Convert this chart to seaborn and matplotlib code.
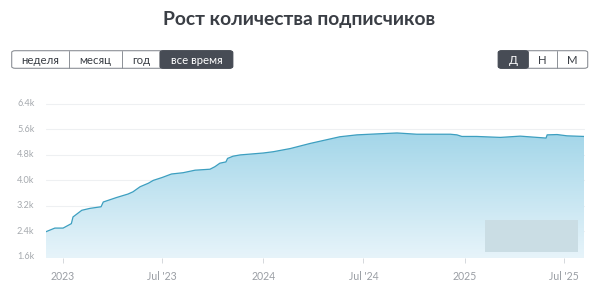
import matplotlib
matplotlib.use("Agg")
import matplotlib.pyplot as plt
import matplotlib.dates as mdates
from matplotlib.patches import FancyBboxPatch, Rectangle
import numpy as np
import pandas as pd
import seaborn as sns

# ---- data ----
dates = ["2022-12-01", "2022-12-18", "2023-01-02", "2023-01-17", "2023-01-20",
         "2023-02-05", "2023-02-20", "2023-03-12", "2023-03-16", "2023-04-09",
         "2023-04-30", "2023-05-09", "2023-05-22", "2023-06-06", "2023-06-15",
         "2023-07-01", "2023-07-18", "2023-08-08", "2023-08-30", "2023-09-26",
         "2023-10-05", "2023-10-14", "2023-10-25", "2023-10-28", "2023-11-07",
         "2023-11-20", "2024-01-01", "2024-01-19", "2024-02-19", "2024-03-08",
         "2024-03-26", "2024-05-19", "2024-06-19", "2024-07-25", "2024-08-31",
         "2024-10-06", "2024-10-30", "2024-12-06", "2024-12-18", "2024-12-27",
         "2025-01-23", "2025-03-07", "2025-04-12", "2025-05-13", "2025-05-29",
         "2025-05-31", "2025-06-18", "2025-07-06", "2025-08-06"]
subscribers = [2380, 2500, 2500, 2640, 2850,
               3060, 3120, 3170, 3320, 3460,
               3570, 3640, 3800, 3910, 4000,
               4090, 4200, 4240, 4320, 4350,
               4430, 4540, 4580, 4690, 4760,
               4800, 4860, 4900, 5000, 5080,
               5160, 5370, 5430, 5460, 5490,
               5450, 5450, 5450, 5430, 5380,
               5380, 5350, 5390, 5350, 5330,
               5430, 5440, 5400, 5380]
tick_dates = ["2023-01-01", "2023-07-01", "2024-01-01", "2024-07-01", "2025-01-01", "2025-07-01"]
tick_labels = ["2023", "Jul '23", "2024", "Jul '24", "2025", "Jul '25"]
y_ticks = [1600, 2400, 3200, 4000, 4800, 5600, 6400]
y_tick_labels = ["1.6k", "2.4k", "3.2k", "4.0k", "4.8k", "5.6k", "6.4k"]
title = "Рост количества подписчиков"
period_buttons = ["неделя", "месяц", "год", "все время"]
step_buttons = ["Д", "Н", "М"]

df = pd.DataFrame({"date": pd.to_datetime(dates), "value": subscribers})

sns.set_theme(style="white")
plt.rcParams["font.family"] = ["Lato", "DejaVu Sans"]

W, H = 593, 297
fig = plt.figure(figsize=(W / 100, H / 100), dpi=100)
fig.patch.set_facecolor("white")

def fx(px):
    return px / W

def fy(py):
    return 1 - py / H

ax_left, ax_right, ax_top, ax_bottom = 45.5, 584, 104, 258.3
ax = fig.add_axes([fx(ax_left), fy(ax_bottom), fx(ax_right - ax_left), (ax_bottom - ax_top) / H])
ax.set_facecolor("white")

ymin, ymax = 1550, 6400
x0 = df["date"].min()
x1 = df["date"].max()

# gridlines
for yt in y_ticks[1:]:
    ax.axhline(yt, color="#eef0f2", lw=0.8, zorder=0, clip_on=False)

# gradient fill under line
poly = ax.fill_between(df["date"], df["value"], ymin, color="none", lw=0, zorder=1)
grad = np.linspace(0, 1, 256).reshape(-1, 1)
top_c = np.array([0xa3, 0xd6, 0xe9]) / 255
bot_c = np.array([0xe7, 0xf4, 0xfa]) / 255
img = top_c[None, None, :] * (1 - grad[..., None]) + bot_c[None, None, :] * grad[..., None]
y_top_grad = 5500
im = ax.imshow(img, aspect="auto", origin="upper",
               extent=[mdates.date2num(x0), mdates.date2num(x1), ymin, y_top_grad],
               zorder=1)
path = poly.get_paths()[0]
im.set_clip_path(path, transform=ax.transData)

sns.lineplot(data=df, x="date", y="value", ax=ax, color="#3d9fc0", lw=0.9, zorder=3)

ax.set_xlim(x0, x1)
ax.set_ylim(ymin, ymax)
ax.set_xticks(pd.to_datetime(tick_dates))
ax.set_xticklabels(tick_labels)
ax.set_yticks(y_ticks)
ax.set_yticklabels(y_tick_labels)
ax.set_xlabel("")
ax.set_ylabel("")
for s in ax.spines.values():
    s.set_visible(False)
ax.tick_params(axis="x", which="both", length=3.5, width=0.7, color="#d5d8dc",
               labelsize=7.6, labelcolor="#9a9ea4", pad=6, direction="out", bottom=True)
ax.tick_params(axis="y", length=0, labelsize=6.6, labelcolor="#a6aaaf", pad=8)
for lbl in ax.get_yticklabels():
    lbl.set_va("center")

# blurred watermark box
fig.patches.append(Rectangle((fx(485), fy(251.7)), fx(577.7 - 485), (251.7 - 220) / H,
                             transform=fig.transFigure, facecolor="#cadde4",
                             edgecolor="none", zorder=5))

# title
fig.text(fx(299.5), fy(19), title, ha="center", va="center", fontsize=13.9,
         fontweight="bold", color="#3a3e45")

# buttons
def draw_group(edges, labels, active, y0, y1):
    h = (y1 - y0) / H
    fig.patches.append(FancyBboxPatch((fx(edges[0]), fy(y1)), fx(edges[-1] - edges[0]), h,
                                      boxstyle="round,pad=0,rounding_size=0.006",
                                      transform=fig.transFigure, facecolor="white",
                                      edgecolor="#8c9096", lw=0.8, zorder=2))
    for i, lab in enumerate(labels):
        a, b = edges[i], edges[i + 1]
        if i == active:
            fig.patches.append(FancyBboxPatch((fx(a), fy(y1)), fx(b - a), h,
                                              boxstyle="round,pad=0,rounding_size=0.006",
                                              transform=fig.transFigure, facecolor="#474c55",
                                              edgecolor="#474c55", lw=0.8, zorder=3))
        elif i > 0 and i - 1 != active:
            fig.lines.append(plt.Line2D([fx(a), fx(a)], [fy(y1), fy(y0)],
                                        transform=fig.transFigure, color="#8c9096",
                                        lw=0.7, zorder=3))
        fig.text(fx((a + b) / 2), fy((y0 + y1) / 2 + 0.5), lab, ha="center", va="center",
                 fontsize=8.2, color="white" if i == active else "#3a3e45", zorder=4)

draw_group([11.7, 69.3, 121.7, 160, 232.7], period_buttons, 3, 50.7, 68.3)
draw_group([498.3, 528.3, 557.3, 587.7], step_buttons, 0, 50.7, 68.3)

fig.savefig("out.png", dpi=100, facecolor="white")
